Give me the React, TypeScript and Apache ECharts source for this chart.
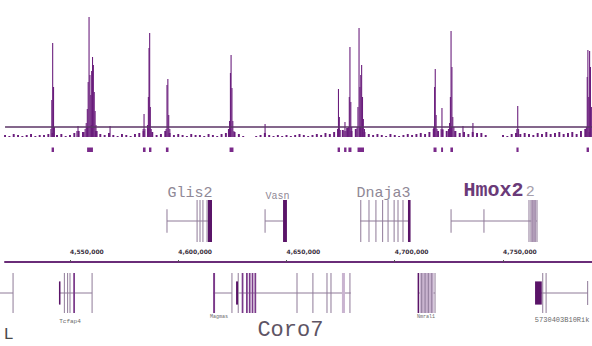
import React, { useEffect, useRef } from "react";
import * as echarts from "echarts";

// Genomic window (kb)
const X_MIN = 4517.67;
const X_MAX = 4791.1;
const AXIS_MIN = 4520;

// Background signal, one value every NOISE_STEP kb starting at NOISE_START
const NOISE_START = 4520;
const NOISE_STEP = 2;
const noise = [
  2, 1, 3, 2, 1, 2, 3, 1, 2, 2, 3, 4, 2, 3, 1, 2, 4, 6, 5, 10,
  12, 6, 3, 2, 4, 2, 1, 3, 2, 1, 3, 4, 6, 8, 5, 2, 3, 6, 4, 2,
  3, 2, 1, 3, 2, 2, 1, 3, 2, 1, 3, 4, 8, 5, 3, 1, 0, 0, 1, 2,
  4, 2, 1, 2, 1, 2, 1, 2, 3, 2, 1, 2, 3, 2, 4, 3, 5, 8, 7, 9,
  6, 8, 10, 5, 3, 2, 3, 2, 1, 3, 2, 1, 2, 3, 2, 3, 4, 3, 5, 8,
  6, 7, 6, 10, 6, 4, 5, 3, 5, 4, 4, 2, 0, 0, 0, 2, 1, 3, 4, 3,
  4, 3, 2, 4, 3, 5, 3, 4, 5, 3, 4, 5, 3, 6, 8, 5,
];

// Enriched peaks [kb, signal]
const peaks = [
  [4541.2, 8], [4541.6, 37], [4542.0, 94], [4542.4, 50], [4542.8, 10],
  [4553.2, 6], [4553.7, 11],
  [4556.5, 5], [4557.0, 8], [4557.5, 14], [4558.0, 28], [4558.4, 55], [4558.8, 120],
  [4559.2, 62], [4559.6, 42], [4560.0, 66], [4560.4, 80], [4560.8, 72], [4561.2, 45],
  [4561.6, 26], [4562.0, 12], [4562.5, 6],
  [4568.5, 11],
  [4583.8, 8], [4584.2, 23], [4584.6, 8], [4585.8, 12], [4586.2, 40], [4586.5, 89],
  [4586.8, 104], [4587.1, 30], [4587.5, 8],
  [4594.4, 8], [4594.8, 52], [4595.2, 58], [4595.6, 22], [4596.1, 8],
  [4623.2, 8], [4623.7, 16], [4624.1, 64], [4624.4, 82], [4624.8, 49], [4625.2, 16], [4625.7, 6],
  [4640.1, 13],
  [4673.6, 8], [4674.0, 48], [4674.4, 20], [4674.8, 7],
  [4676.6, 6], [4677.0, 15], [4677.4, 6],
  [4678.6, 10], [4679.0, 40], [4679.3, 90], [4679.7, 35], [4680.1, 10],
  [4682.6, 10], [4683.0, 30], [4683.5, 109], [4683.9, 50], [4684.3, 62], [4684.7, 72],
  [4685.1, 40], [4685.5, 18], [4686.0, 8],
  [4718.0, 10], [4718.4, 50], [4718.7, 68], [4719.1, 22], [4719.5, 8],
  [4721.4, 8], [4721.8, 29], [4722.2, 8],
  [4724.8, 8], [4725.3, 14], [4725.7, 40], [4726.0, 106], [4726.4, 70], [4726.8, 20],
  [4727.3, 10], [4727.8, 6],
  [4731.5, 11], [4736.1, 14],
  [4756.4, 8], [4756.8, 31], [4757.2, 8],
  [4788.5, 10], [4788.9, 60], [4789.2, 87], [4789.6, 40], [4790.0, 86], [4790.4, 70], [4790.8, 30],
];

const THRESHOLD = 10;

// Called peak regions [startKb, endKb]
const calledPeaks = [
  [4541.5, 4542.6], [4557.9, 4560.6], [4583.7, 4584.9], [4586.5, 4587.6],
  [4594.3, 4595.5], [4623.7, 4625.5], [4673.6, 4674.7], [4676.6, 4677.7],
  [4678.6, 4680.0], [4682.8, 4685.8], [4717.9, 4719.3], [4721.4, 4722.3],
  [4725.7, 4726.9], [4756.2, 4757.2], [4788.6, 4789.7],
];

// Upper gene track
const upperIntrons = [[4594.8, 4615.6], [4640.1, 4648.4], [4684.0, 4707.0], [4726.0, 4765.7]];
const upperTicks = [4594.8, 4640.1, 4726.0, 4741.2];
const upperExonLines = [
  4608.7, 4610.05, 4611.4, 4613.3,
  4684.3, 4688.1, 4691.3, 4694.4, 4696.9, 4699.7, 4701.5, 4703.8,
  4762.0, 4762.9, 4763.8, 4764.8, 4765.7,
];
const upperLightBlocks = [[4763.0, 4765.3]];
const upperDarkBlocks = [[4613.7, 4615.6], [4648.4, 4650.2], [4706.1, 4707.3]];
const upperLabels = [
  ["Glis2", 4605.4], ["Vasn", 4645.8], ["Dnaja3", 4694.8], ["Hmox2", 4745.6], ["2", 4762.6],
];

// Lower gene track
const lowerIntrons = [
  [4517.67, 4523.7], [4544.9, 4560.2], [4616.1, 4624.8], [4626.7, 4679.7],
  [4710.9, 4718.6], [4764.8, 4789.1],
];
const lowerTicks = [4523.7, 4560.2, 4624.8];
const lowerShortTicks = [4789.1];
const lowerUtr = [[4544.9, 4545.6], [4626.7, 4627.6], [4764.8, 4767.9]];
const lowerExonLines = [
  4547.4, 4548.9, 4550.0, 4627.7, 4654.85, 4662.2, 4668.7, 4670.55, 4679.3,
  4712.45, 4714.0, 4715.5, 4717.1, 4718.6, 4768.35, 4769.9,
];
const lowerDarkLines = [4710.9];
const lowerBlocks = [
  [4551.5, 4552.3], [4616.1, 4617.0], [4629.3, 4630.1], [4631.3, 4632.1],
  [4632.6, 4633.4], [4633.9, 4634.7], [4635.2, 4636.0],
];
const lowerLightBlocks = [[4675.6, 4677.0], [4711.5, 4718.0]];
const lowerLabels = [
  ["Tcfap4", 4550.0], ["Magmas", 4618.8], ["Nmral1", 4714.4],
  ["5730403B10Rik", 4777.3], ["Coro7", 4651.8], ["L", 4521.6],
];

const axisTicks = [4550, 4600, 4650, 4700, 4750];

// ---- styles ----
const PURPLE = "#6a1d7c";
const DARK = "#5a1468";
const MID = "#7b3a8a";
const LINE = "#8f7a98";
const LIGHTFILL = "#c9b4d0";
const MONO = "'Liberation Mono', 'Courier New', monospace";

const labelStyle: Record<string, { size: number; dy: number; color: string; weight?: string }> = {
  Glis2: { size: 15, dy: -28, color: "#8f8896" },
  Vasn: { size: 10, dy: -25, color: "#8f8896" },
  Dnaja3: { size: 15, dy: -28, color: "#8f8896" },
  Hmox2: { size: 20, dy: -31, color: "#6a3a78", weight: "bold" },
  "2": { size: 15, dy: -29, color: "#a59eab" },
  Tcfap4: { size: 6, dy: 28, color: "#6a6a6a" },
  Magmas: { size: 5, dy: 24, color: "#6a6a6a" },
  Nmral1: { size: 5, dy: 24, color: "#6a6a6a" },
  "5730403B10Rik": { size: 7, dy: 27, color: "#6a6a6a" },
  Coro7: { size: 22, dy: 37, color: "#5e5464" },
  L: { size: 17, dy: 41, color: "#4a4a4a" },
};

function rect(api: any, x0: number, x1: number, y0: number, y1: number, fill: string, minW = 0.8) {
  const a = api.coord([x0, y1]);
  const b = api.coord([x1, y0]);
  return {
    type: "rect",
    shape: { x: a[0], y: a[1], width: Math.max(b[0] - a[0], minW), height: b[1] - a[1] },
    style: { fill },
  };
}
function vline(api: any, x: number, y0: number, y1: number, stroke: string, w = 1) {
  const a = api.coord([x, y0]);
  const b = api.coord([x, y1]);
  return { type: "line", shape: { x1: a[0], y1: a[1], x2: b[0], y2: b[1] }, style: { stroke, lineWidth: w } };
}
function hline(api: any, x0: number, x1: number, y: number, stroke: string, w = 1) {
  const a = api.coord([x0, y]);
  const b = api.coord([x1, y]);
  return { type: "line", shape: { x1: a[0], y1: a[1], x2: b[0], y2: b[1] }, style: { stroke, lineWidth: w } };
}

export default function App() {
  const ref = useRef<HTMLDivElement>(null);
  useEffect(() => {
    if (!ref.current) return;
    const chart = echarts.init(ref.current, undefined, { renderer: "svg" });

    const noiseData = noise.map((v, i) => [NOISE_START + i * NOISE_STEP, v]);

    const hiddenX = (gridIndex: number, min = X_MIN) => ({
      type: "value", gridIndex, min, max: X_MAX, show: false,
      splitLine: { show: false },
    });
    const hiddenY = (gridIndex: number, min: number, max: number) => ({
      type: "value", gridIndex, min, max, show: false, splitLine: { show: false },
    });

    const feature = (kind: string, rows: any[], xi: number) => ({
      type: "custom", xAxisIndex: xi, yAxisIndex: xi, clip: false, silent: true,
      data: rows.map((r) => (Array.isArray(r) ? r : [r])),
      encode: { x: 0 },
      renderItem: (params: any, api: any) => {
        const d = rows[params.dataIndex];
        switch (kind) {
          case "intron": return hline(api, d[0], d[1], 0, LINE, 1);
          case "tick": return vline(api, d, -0.28, 0.28, LINE, 1);
          case "tickFull": return vline(api, d, -0.5, 0.5, LINE, 1);
          case "tickShort": return vline(api, d, -0.3, 0.3, LINE, 1);
          case "exonLine": return vline(api, d, -0.5, 0.5, LINE, 1);
          case "darkLine": return vline(api, d, -0.5, 0.5, DARK, 1.5);
          case "darkBlock": return rect(api, d[0], d[1], -0.5, 0.5, DARK, 1.5);
          case "midBlock": return rect(api, d[0], d[1], -0.5, 0.5, MID, 1.5);
          case "lightBlock": return rect(api, d[0], d[1], -0.5, 0.5, LIGHTFILL, 1.5);
          case "utr": return rect(api, d[0], d[1], -0.29, 0.29, DARK, 1.5);
          case "label": {
            const s = labelStyle[d[0]];
            const p = api.coord([d[1], 0]);
            return {
              type: "text", x: p[0], y: p[1] + s.dy,
              style: {
                text: d[0], font: `${s.weight || "normal"} ${s.size}px ${MONO}`,
                fill: s.color, align: "center", verticalAlign: "middle",
              },
            };
          }
        }
        return null;
      },
    });

    chart.setOption({
      animation: false,
      backgroundColor: "#ffffff",
      grid: [
        { left: 0, right: 0, top: 10, height: 127 },
        { left: 0, right: 0, top: 147.5, height: 4.5 },
        { left: 0, right: 0, top: 200, height: 42 },
        { left: 5, right: 0, top: 257, height: 5 },
        { left: 0, right: 0, top: 273, height: 40 },
      ],
      xAxis: [
        hiddenX(0), hiddenX(1), hiddenX(2),
        {
          type: "value", gridIndex: 3, min: AXIS_MIN, max: X_MAX, position: "top",
          axisLine: { show: true, lineStyle: { color: "#6a2c78", width: 2 } },
          axisTick: { show: true, customValues: axisTicks, length: 2, lineStyle: { color: "#555" } },
          axisLabel: {
            show: true, customValues: axisTicks, fontSize: 6, fontWeight: "bold",
            color: "#3a3040", align: "left", margin: 3, fontFamily: "DejaVu Sans",
            formatter: (v: number) => Math.round(v * 1000).toLocaleString("en-US"),
          },
          splitLine: { show: false },
        },
        hiddenX(4),
      ],
      yAxis: [
        hiddenY(0, 0, 127), hiddenY(1, 0, 1), hiddenY(2, -0.5, 0.5),
        hiddenY(3, 0, 1), hiddenY(4, -0.5, 0.5),
      ],
      series: [
        {
          type: "custom", xAxisIndex: 0, yAxisIndex: 0, silent: true,
          data: noiseData, encode: { x: 0, y: 1 },
          renderItem: (params: any, api: any) =>
            rect(api, api.value(0) - 0.45, api.value(0) + 0.45, 0, api.value(1), PURPLE, 1),
          markLine: {
            silent: true, symbol: "none", label: { show: false },
            lineStyle: { color: "#5b3566", width: 1.5, type: "solid" },
            data: [[{ coord: [AXIS_MIN, THRESHOLD] }, { coord: [X_MAX, THRESHOLD] }]],
          },
        },
        {
          type: "custom", xAxisIndex: 0, yAxisIndex: 0, silent: true,
          data: peaks, encode: { x: 0, y: 1 },
          renderItem: (params: any, api: any) =>
            rect(api, api.value(0) - 0.25, api.value(0) + 0.25, 0, api.value(1), PURPLE, 1),
        },
        {
          type: "custom", xAxisIndex: 1, yAxisIndex: 1, silent: true,
          data: calledPeaks, encode: { x: 0 },
          renderItem: (params: any, api: any) => {
            const d = calledPeaks[params.dataIndex];
            return rect(api, d[0], d[1], 0, 1, "#7a2a8a", 1.5);
          },
        },
        feature("intron", upperIntrons, 2),
        feature("tick", upperTicks, 2),
        feature("lightBlock", upperLightBlocks, 2),
        feature("exonLine", upperExonLines, 2),
        feature("darkBlock", upperDarkBlocks, 2),
        feature("label", upperLabels, 2),
        feature("intron", lowerIntrons, 4),
        feature("tickFull", lowerTicks, 4),
        feature("tickShort", lowerShortTicks, 4),
        feature("lightBlock", lowerLightBlocks, 4),
        feature("exonLine", lowerExonLines, 4),
        feature("midBlock", lowerBlocks, 4),
        feature("darkLine", lowerDarkLines, 4),
        feature("utr", lowerUtr, 4),
        feature("label", lowerLabels, 4),
      ],
    });
    return () => chart.dispose();
  }, []);

  return (
    <div
      ref={ref}
      style={{ position: "absolute", left: 0, top: 0, width: 592, height: 346, background: "#fff" }}
    />
  );
}
